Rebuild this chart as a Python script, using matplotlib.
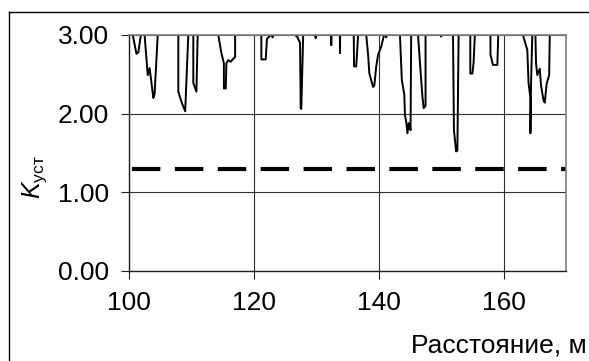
import matplotlib
matplotlib.use('Agg')
import matplotlib.pyplot as plt
from matplotlib.lines import Line2D

plt.rcParams['font.family'] = ['Liberation Sans', 'DejaVu Sans']
plt.rcParams['mathtext.fontset'] = 'custom'
plt.rcParams['mathtext.rm'] = 'Liberation Sans'
plt.rcParams['mathtext.it'] = 'Liberation Sans:italic'
plt.rcParams['lines.scale_dashes'] = False

# Distance (m) and stability coefficient K_уст (values > 3 are off the chart)
distance = [
    100.0, 100.6, 101.2, 101.5, 101.9, 102.2,
    102.5, 103.0, 103.3, 103.9, 104.1, 104.6, 106.0,
    107.9, 107.9, 108.4, 109.0, 109.5, 109.9,
    110.3, 110.3, 110.8, 111.0, 112.5,
    114.3, 114.8, 115.2, 115.2, 115.5, 115.6, 115.9, 116.3, 116.6, 117.0, 117.0, 119.0,
    121.2, 121.2, 121.9, 122.1, 122.7, 122.9, 123.0, 123.1, 125.0,
    126.6, 127.0, 127.4, 127.5, 127.6, 127.9, 128.8,
    129.85, 129.9, 129.95, 131.0,
    132.35, 132.4, 132.45, 133.0,
    133.75, 133.8, 133.85, 135.0,
    136.0, 136.05, 136.4, 136.7, 137.3,
    138.0, 138.3, 138.5, 139.1, 139.3, 139.6, 139.9, 140.4, 140.85, 141.0,
    141.15, 141.2, 141.25, 142.5,
    143.4, 143.7, 144.1, 144.2, 144.4, 144.6, 144.8, 145.1, 145.2, 145.7,
    146.3, 146.6, 147.0, 147.2, 147.5, 147.5, 148.7,
    149.95, 150.0, 150.05, 151.0,
    151.9, 152.05, 152.4, 152.6, 152.8, 153.8,
    154.67, 154.67, 155.0, 155.2, 155.4, 156.5,
    157.9, 157.9, 158.3, 159.0, 159.15, 161.0,
    163.1, 163.8, 164.0, 164.3, 164.3, 164.4, 164.6, 164.85,
    165.1, 165.2, 165.4, 165.6, 165.8, 166.0, 166.4, 166.6, 166.9, 167.3, 167.4, 168.5,
    170.0,
]
k_ust = [
    3.30, 3.00, 2.76, 2.78, 3.00, 3.30,
    3.00, 2.49, 2.58, 2.20, 2.25, 3.00, 3.30,
    3.00, 2.28, 2.15, 2.03, 3.00, 3.30,
    3.00, 2.39, 2.28, 3.00, 3.30,
    3.00, 2.77, 2.64, 2.32, 2.32, 2.64, 2.68, 2.66, 2.69, 2.72, 3.00, 3.30,
    3.00, 2.69, 2.69, 2.95, 3.00, 3.30, 2.97, 3.30, 3.30,
    3.00, 2.97, 2.90, 2.07, 2.06, 3.00, 3.30,
    3.30, 2.96, 3.30, 3.30,
    3.30, 2.87, 3.30, 3.30,
    3.30, 2.77, 3.30, 3.30,
    3.00, 2.60, 2.60, 3.00, 3.30,
    3.00, 2.75, 2.51, 2.34, 2.36, 2.60, 2.75, 2.85, 3.00, 3.30,
    3.30, 2.97, 3.30, 3.30,
    3.00, 2.43, 2.24, 1.98, 1.90, 1.75, 1.88, 1.79, 3.00, 3.30,
    3.00, 2.65, 2.22, 2.07, 2.10, 3.00, 3.30,
    3.30, 2.98, 3.30, 3.30,
    3.00, 1.79, 1.52, 1.53, 3.00, 3.30,
    3.00, 2.51, 2.51, 2.65, 3.00, 3.30,
    3.00, 2.75, 2.62, 2.62, 3.00, 3.30,
    3.00, 2.81, 2.39, 2.20, 1.75, 2.38, 3.00, 3.30,
    3.00, 2.64, 2.49, 2.53, 2.57, 2.36, 2.17, 2.14, 2.38, 2.49, 3.00, 3.30,
    3.30,
]
threshold = 1.3
x_ticks = [100, 120, 140, 160]
y_ticks = [0.0, 1.0, 2.0, 3.0]
y_tick_labels = ['0.00', '1.00', '2.00', '3.00']
x_label = 'Расстояние, м'
y_label = r'$K_{\mathrm{уст}}$'

fig = plt.figure(figsize=(5.89, 3.61), dpi=100)
ax = fig.add_axes([129 / 589, 90 / 361, 437 / 589, 236 / 361])

ax.plot(distance, k_ust, color='black', lw=1.4, solid_joinstyle='round')
ax.axhline(threshold, color='black', lw=3.0, linestyle=(28.8, (20.5, 10.4)),
           dash_capstyle='butt')

ax.set_xlim(100, 170)
ax.set_ylim(0, 3)
ax.set_xticks(x_ticks)
ax.set_yticks(y_ticks)
ax.set_yticklabels(y_tick_labels)

ax.grid(True, color='#303030', lw=0.8)
ax.set_axisbelow(True)
for s in ['top', 'right']:
    ax.spines[s].set_color('#808080')
    ax.spines[s].set_linewidth(1.2)
for s in ['left', 'bottom']:
    ax.spines[s].set_color('#202020')
    ax.spines[s].set_linewidth(1.0)

ax.tick_params(axis='both', direction='out', length=5.5, width=0.8,
               color='#202020', labelsize=19)
ax.tick_params(axis='y', pad=9)
ax.tick_params(axis='x', pad=9)

fig.text(586.5 / 589, 1 - 352 / 361, x_label, ha='right', va='baseline', fontsize=19)
fig.text(35 / 589, 1 - 177 / 361, y_label, ha='center', va='center', rotation=90, fontsize=18)

fig.add_artist(Line2D([9 / 589, 9 / 589], [0, 1 - 12 / 361], transform=fig.transFigure,
                      color='black', lw=1.0))
fig.add_artist(Line2D([9 / 589, 1], [1 - 12 / 361, 1 - 12 / 361], transform=fig.transFigure,
                      color='black', lw=1.0))

fig.savefig('out.png', dpi=100)
